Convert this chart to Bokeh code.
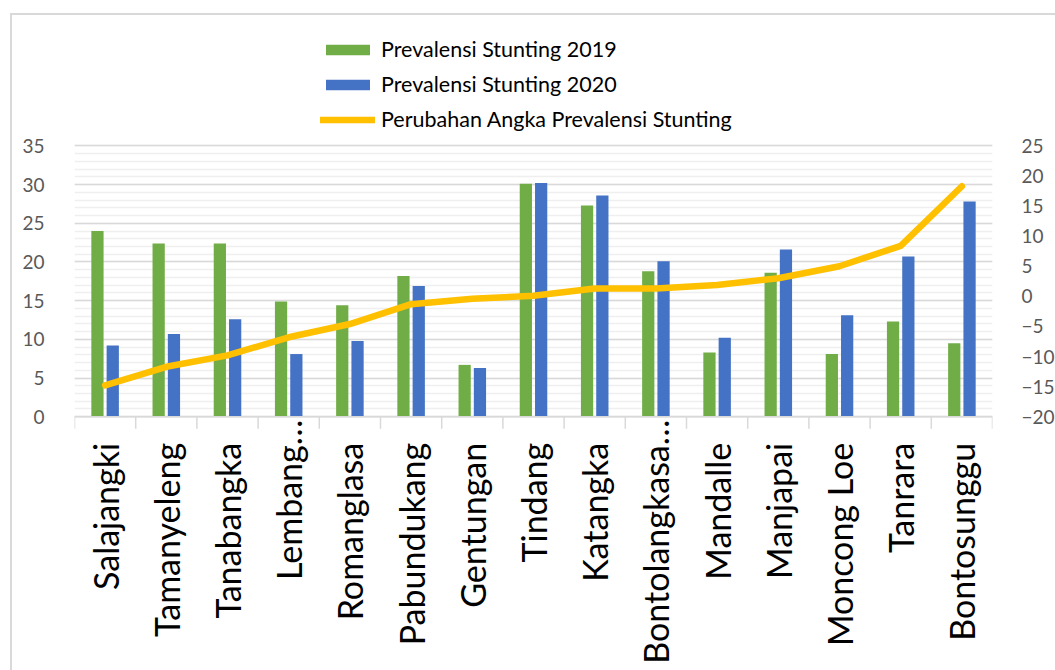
import math
from bokeh.plotting import figure
from bokeh.models import (Range1d, LinearAxis, FixedTicker, Legend, LegendItem,
                          ColumnDataSource, Span, InlineStyleSheet)
from bokeh.transform import dodge
from bokeh.embed import file_html
from bokeh.resources import INLINE
from bokeh.core.properties import value

categories = ["Salajangki", "Tamanyeleng", "Tanabangka", "Lembang\u2026", "Romanglasa",
              "Pabundukang", "Gentungan", "Tindang", "Katangka", "Bontolangkasa\u2026",
              "Mandalle", "Manjapai", "Moncong Loe", "Tanrara", "Bontosunggu"]
prev_2019 = [24.0, 22.4, 22.4, 14.9, 14.4, 18.2, 6.7, 30.1, 27.3, 18.8, 8.3, 18.6, 8.1, 12.3, 9.5]
prev_2020 = [9.2, 10.7, 12.6, 8.1, 9.8, 16.9, 6.3, 30.2, 28.6, 20.1, 10.2, 21.6, 13.1, 20.7, 27.8]
perubahan = [-14.8, -11.7, -9.8, -6.8, -4.6, -1.3, -0.4, 0.1, 1.3, 1.3, 1.9, 3.0, 5.0, 8.4, 18.3]

left_ticks = [0, 5, 10, 15, 20, 25, 30, 35]
right_ticks = [-20, -15, -10, -5, 0, 5, 10, 15, 20, 25]

FONT = "Lato"

# ---- layout (pixels) ----
OX, OY = 12, 15       # canvas origin in the page (after chart border)
BORDER = 2
W, H = 1055 - OX, 670 - OY
ZERO_Y = 415 - OY     # canvas y of value 0 (left axis)
TOP_Y = 145 - OY      # canvas y of value 35
UPX = (ZERO_Y - TOP_Y) / 35.0          # px per unit on left axis
y_lo = -(H - ZERO_Y) / UPX
y_hi = ZERO_Y / UPX
# right axis: -20 at zero line, 25 at top line
RSCALE = 45.0 / 35.0
r_lo = -20 + y_lo * RSCALE
r_hi = -20 + y_hi * RSCALE

n = len(categories)
xs = list(range(n))
label_y = [-(3 if c.endswith("\u2026") else 26) / UPX for c in categories]
src = ColumnDataSource(dict(x=xs, y2019=prev_2019, y2020=prev_2020, ch=perubahan,
                            name=categories, ly=label_y))

p = figure(width=W, height=H, x_range=Range1d(-0.5, n - 0.5), y_range=Range1d(y_lo, y_hi),
           output_backend="svg", toolbar_location=None, x_axis_location=None,
           min_border_left=74 - OX, min_border_right=58, min_border_top=0, min_border_bottom=0)
p.outline_line_color = None
p.background_fill_color = "white"
p.border_fill_color = "white"
p.extra_y_ranges = {"right": Range1d(r_lo, r_hi)}
p.stylesheets = [InlineStyleSheet(css=(
    ":host { box-sizing: content-box; margin-left: %dpx; margin-top: %dpx; "
    "border-left: %dpx solid #D9D9D9; border-top: %dpx solid #D9D9D9; }"
    % (OX - BORDER, OY - BORDER, BORDER, BORDER)))]

# grid
p.xgrid.visible = False
p.ygrid.ticker = FixedTicker(ticks=left_ticks, minor_ticks=list(range(0, 36)))
p.ygrid.grid_line_color = "#D9D9D9"
p.ygrid.grid_line_width = 1.5
p.ygrid.minor_grid_line_color = "#EFEFEF"
p.ygrid.minor_grid_line_width = 1.5

g = p.vbar(x=dodge("x", -0.125), top="y2019", width=0.2, source=src,
           fill_color="#70AD47", line_color=None)
b = p.vbar(x=dodge("x", 0.125), top="y2020", width=0.2, source=src,
           fill_color="#4472C4", line_color=None)
ln = p.line(x="x", y="ch", source=src, y_range_name="right", line_color="#FFC000",
            line_width=6.5, line_join="round", line_cap="round")

# category axis line and boundary ticks
p.add_layout(Span(location=0, dimension="width", line_color="#D9D9D9", line_width=1.5))
bounds = [i - 0.5 for i in range(n + 1)]
p.segment(x0=bounds, y0=[0] * len(bounds), x1=bounds, y1=[-12 / UPX] * len(bounds),
          line_color="#D9D9D9", line_width=1.5)

# category labels
p.text(x="x", y="ly", text="name", source=src, angle=math.pi / 2,
       text_align="right", text_baseline="middle",
       text_font=value(FONT), text_font_size="34px", text_color="black")

# left axis
ya = p.yaxis[0]
ya.ticker = FixedTicker(ticks=left_ticks)
ya.axis_line_color = None
ya.major_tick_line_color = None
ya.minor_tick_line_color = None
ya.major_label_text_font = FONT
ya.major_label_text_font_size = "19px"
ya.major_label_text_color = "#595959"
ya.major_label_standoff = 24

# right axis
ra = LinearAxis(y_range_name="right", ticker=FixedTicker(ticks=right_ticks))
ra.axis_line_color = None
ra.major_tick_line_color = None
ra.minor_tick_line_color = None
ra.major_label_text_font = FONT
ra.major_label_text_font_size = "19px"
ra.major_label_text_color = "#595959"
ra.major_label_standoff = 23
p.add_layout(ra, "right")

legend = Legend(items=[
    LegendItem(label="Prevalensi Stunting 2019", renderers=[g]),
    LegendItem(label="Prevalensi Stunting 2020", renderers=[b]),
    LegendItem(label="Perubahan Angka Prevalensi Stunting", renderers=[ln]),
], location=(246, 540), orientation="vertical")
legend.glyph_width = 55
legend.glyph_height = 13
legend.label_height = 20
legend.spacing = 9
legend.padding = 0
legend.margin = 0
legend.label_standoff = 6
legend.label_text_font = FONT
legend.label_text_font_size = "21.5px"
legend.label_text_color = "black"
legend.border_line_color = None
legend.background_fill_alpha = 0
p.add_layout(legend)

open("out.html", "w").write(file_html(p, INLINE))
